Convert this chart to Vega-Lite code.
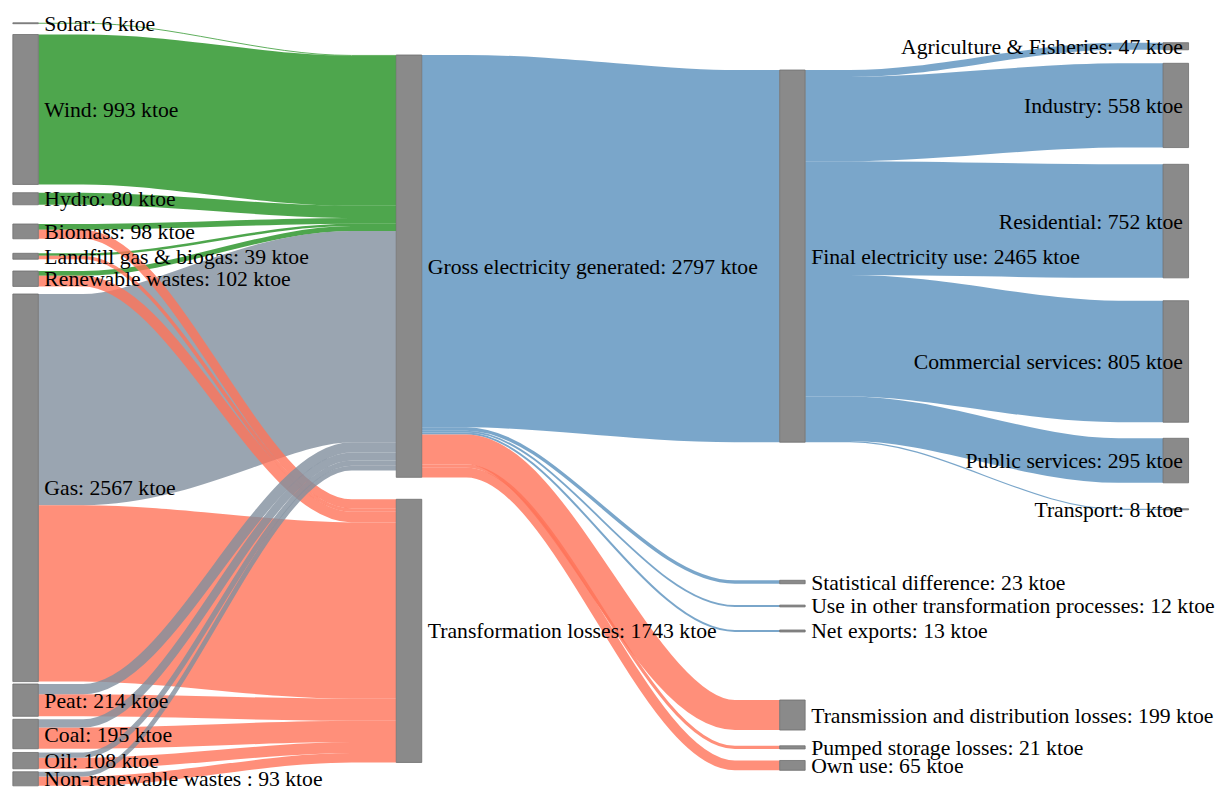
{
  "$schema": "https://vega.github.io/schema/vega-lite/v6.json",
  "width": 1216,
  "height": 787,
  "autosize": {"type": "none"},
  "padding": 0,
  "background": "white",
  "config": {"view": {"stroke": null}},
  "datasets": {
    "nodes": [
      {"name": "Solar", "stage": 0, "start": 151.0, "value": 6, "label": "Solar: 6 ktoe"},
      {"name": "Wind", "stage": 0, "start": 228.5, "value": 993, "label": "Wind: 993 ktoe"},
      {"name": "Hydro", "stage": 0, "start": 1276.2, "value": 80, "label": "Hydro: 80 ktoe"},
      {"name": "Biomass", "stage": 0, "start": 1483.4, "value": 98, "label": "Biomass: 98 ktoe"},
      {"name": "Landfill gas & biogas", "stage": 0, "start": 1677.5, "value": 39, "label": "Landfill gas & biogas: 39 ktoe"},
      {"name": "Renewable wastes", "stage": 0, "start": 1794.7, "value": 102, "label": "Renewable wastes: 102 ktoe"},
      {"name": "Gas", "stage": 0, "start": 1947.0, "value": 2567, "label": "Gas: 2567 ktoe"},
      {"name": "Peat", "stage": 0, "start": 4529.8, "value": 214, "label": "Peat: 214 ktoe"},
      {"name": "Coal", "stage": 0, "start": 4763.6, "value": 195, "label": "Coal: 195 ktoe"},
      {"name": "Oil", "stage": 0, "start": 4983.4, "value": 108, "label": "Oil: 108 ktoe"},
      {"name": "Non-renewable wastes", "stage": 0, "start": 5111.3, "value": 93, "label": "Non-renewable wastes : 93 ktoe"},
      {"name": "Gross electricity generated", "stage": 1, "start": 364.2, "value": 2797, "label": "Gross electricity generated: 2797 ktoe"},
      {"name": "Transformation losses", "stage": 1, "start": 3306.6, "value": 1743, "label": "Transformation losses: 1743 ktoe"},
      {"name": "Final electricity use", "stage": 2, "start": 463.6, "value": 2465, "label": "Final electricity use: 2465 ktoe"},
      {"name": "Statistical difference", "stage": 2, "start": 3843.0, "value": 23, "label": "Statistical difference: 23 ktoe"},
      {"name": "Use in other transformation processes", "stage": 2, "start": 4007.3, "value": 12, "label": "Use in other transformation processes: 12 ktoe"},
      {"name": "Net exports", "stage": 2, "start": 4172.2, "value": 13, "label": "Net exports: 13 ktoe"},
      {"name": "Transmission and distribution losses", "stage": 2, "start": 4635.8, "value": 199, "label": "Transmission and distribution losses: 199 ktoe"},
      {"name": "Pumped storage losses", "stage": 2, "start": 4939.1, "value": 21, "label": "Pumped storage losses: 21 ktoe"},
      {"name": "Own use", "stage": 2, "start": 5036.4, "value": 65, "label": "Own use: 65 ktoe"},
      {"name": "Agriculture & Fisheries", "stage": 3, "start": 282.8, "value": 47, "label": "Agriculture & Fisheries: 47 ktoe"},
      {"name": "Industry", "stage": 3, "start": 419.2, "value": 558, "label": "Industry: 558 ktoe"},
      {"name": "Residential", "stage": 3, "start": 1088.1, "value": 752, "label": "Residential: 752 ktoe"},
      {"name": "Commercial services", "stage": 3, "start": 1991.4, "value": 805, "label": "Commercial services: 805 ktoe"},
      {"name": "Public services", "stage": 3, "start": 2902.6, "value": 295, "label": "Public services: 295 ktoe"},
      {"name": "Transport", "stage": 3, "start": 3368.9, "value": 8, "label": "Transport: 8 ktoe"}
    ],
    "links": [
      {"source": "Solar", "target": "Gross electricity generated", "value": 6, "kind": "renewable"},
      {"source": "Wind", "target": "Gross electricity generated", "value": 993, "kind": "renewable"},
      {"source": "Hydro", "target": "Gross electricity generated", "value": 80, "kind": "renewable"},
      {"source": "Biomass", "target": "Gross electricity generated", "value": 38, "kind": "renewable"},
      {"source": "Biomass", "target": "Transformation losses", "value": 60, "kind": "loss"},
      {"source": "Landfill gas & biogas", "target": "Gross electricity generated", "value": 16, "kind": "renewable"},
      {"source": "Landfill gas & biogas", "target": "Transformation losses", "value": 23, "kind": "loss"},
      {"source": "Renewable wastes", "target": "Gross electricity generated", "value": 32, "kind": "renewable"},
      {"source": "Renewable wastes", "target": "Transformation losses", "value": 70, "kind": "loss"},
      {"source": "Gas", "target": "Gross electricity generated", "value": 1399, "kind": "fossil"},
      {"source": "Gas", "target": "Transformation losses", "value": 1168, "kind": "loss"},
      {"source": "Peat", "target": "Gross electricity generated", "value": 68, "kind": "fossil"},
      {"source": "Peat", "target": "Transformation losses", "value": 146, "kind": "loss"},
      {"source": "Coal", "target": "Gross electricity generated", "value": 54, "kind": "fossil"},
      {"source": "Coal", "target": "Transformation losses", "value": 141, "kind": "loss"},
      {"source": "Oil", "target": "Gross electricity generated", "value": 35, "kind": "fossil"},
      {"source": "Oil", "target": "Transformation losses", "value": 73, "kind": "loss"},
      {"source": "Non-renewable wastes", "target": "Gross electricity generated", "value": 31, "kind": "fossil"},
      {"source": "Non-renewable wastes", "target": "Transformation losses", "value": 62, "kind": "loss"},
      {"source": "Gross electricity generated", "target": "Final electricity use", "value": 2465, "kind": "electricity"},
      {"source": "Gross electricity generated", "target": "Statistical difference", "value": 23, "kind": "electricity"},
      {"source": "Gross electricity generated", "target": "Use in other transformation processes", "value": 12, "kind": "electricity"},
      {"source": "Gross electricity generated", "target": "Net exports", "value": 13, "kind": "electricity"},
      {"source": "Gross electricity generated", "target": "Transmission and distribution losses", "value": 199, "kind": "loss"},
      {"source": "Gross electricity generated", "target": "Pumped storage losses", "value": 21, "kind": "loss"},
      {"source": "Gross electricity generated", "target": "Own use", "value": 65, "kind": "loss"},
      {"source": "Final electricity use", "target": "Agriculture & Fisheries", "value": 47, "kind": "electricity"},
      {"source": "Final electricity use", "target": "Industry", "value": 558, "kind": "electricity"},
      {"source": "Final electricity use", "target": "Residential", "value": 752, "kind": "electricity"},
      {"source": "Final electricity use", "target": "Commercial services", "value": 805, "kind": "electricity"},
      {"source": "Final electricity use", "target": "Public services", "value": 295, "kind": "electricity"},
      {"source": "Final electricity use", "target": "Transport", "value": 8, "kind": "electricity"}
    ]
  },
  "layer": [
    {
      "data": {"name": "links"},
      "transform": [
        {"lookup": "source", "from": {"data": {"name": "nodes"}, "key": "name", "fields": ["stage", "start"]}, "as": ["s_stage", "s_start"]},
        {"lookup": "target", "from": {"data": {"name": "nodes"}, "key": "name", "fields": ["start"]}, "as": ["t_start"]},
        {"window": [{"op": "sum", "field": "value", "as": "s_cum"}], "groupby": ["source"], "sort": [{"field": "t_start", "order": "ascending"}], "frame": [null, 0]},
        {"window": [{"op": "sum", "field": "value", "as": "t_cum"}], "groupby": ["target"], "sort": [{"field": "s_start", "order": "ascending"}], "frame": [null, 0]},
        {"calculate": "[0, 0.125, 0.875, 1]", "as": "t"},
        {"calculate": "[0, 0, 1, 1]", "as": "e"},
        {"flatten": ["t", "e"]},
        {"calculate": "datum.s_stage + 0.03326 + datum.t * 0.93348", "as": "px"},
        {"calculate": "datum.s_start + datum.s_cum - datum.value / 2 + datum.e * ((datum.t_start + datum.t_cum) - (datum.s_start + datum.s_cum))", "as": "py"}
      ],
      "encoding": {
        "x": {"field": "px", "type": "quantitative", "scale": {"domain": [-0.06677, 3.10485], "nice": false, "zero": false, "padding": 0}, "axis": null},
        "y": {"field": "py", "type": "quantitative", "scale": {"domain": [0, 5212], "reverse": true, "nice": false, "zero": false, "padding": 0}, "axis": null},
        "detail": [{"field": "source"}, {"field": "target"}],
        "order": {"field": "t", "type": "quantitative"},
        "color": {"field": "kind", "type": "nominal", "scale": {"domain": ["renewable", "fossil", "electricity", "loss"], "range": ["#229020", "#818f9d", "#5990bd", "#ff7359"]}, "legend": null},
        "size": {"field": "value", "type": "quantitative", "scale": {"type": "linear", "domain": [0, 5212], "range": [0, 787], "zero": true}, "legend": null}
      },
      "layer": [
        {
          "transform": [{"filter": "datum.target == 'Gross electricity generated' && (datum.kind == 'renewable' || datum.source == 'Gas')"}],
          "mark": {"type": "line", "interpolate": "monotone", "strokeCap": "butt", "opacity": 0.8}
        },
        {
          "transform": [{"filter": "datum.target == 'Transformation losses'"}],
          "mark": {"type": "line", "interpolate": "monotone", "strokeCap": "butt", "opacity": 0.8}
        },
        {
          "transform": [{"filter": "datum.kind == 'fossil' && datum.source != 'Gas'"}],
          "mark": {"type": "line", "interpolate": "monotone", "strokeCap": "butt", "opacity": 0.8}
        },
        {
          "transform": [{"filter": "datum.s_stage >= 1"}],
          "mark": {"type": "line", "interpolate": "monotone", "strokeCap": "butt", "opacity": 0.8}
        }
      ]
    },
    {
      "data": {"name": "nodes"},
      "transform": [
        {"calculate": "datum.start + datum.value", "as": "end"},
        {"calculate": "datum.start + datum.value / 2", "as": "mid"}
      ],
      "layer": [
        {
          "mark": {"type": "bar", "width": 25.5, "fill": "#8a8a8a", "stroke": "#6e6e6e", "strokeWidth": 0.8},
          "encoding": {
            "x": {"field": "stage", "type": "quantitative", "scale": {"domain": [-0.06677, 3.10485], "nice": false, "zero": false, "padding": 0}, "axis": null},
            "y": {"field": "start", "type": "quantitative", "scale": {"domain": [0, 5212], "reverse": true, "nice": false, "zero": false, "padding": 0}, "axis": null},
            "y2": {"field": "end"}
          }
        },
        {
          "transform": [{"filter": "datum.stage < 3"}],
          "mark": {"type": "text", "align": "left", "baseline": "alphabetic", "dx": 18.75, "dy": 7.5, "font": "Liberation Serif, Times New Roman, DejaVu Serif, serif", "fontSize": 21.7, "color": "#000000"},
          "encoding": {
            "x": {"field": "stage", "type": "quantitative", "axis": null},
            "y": {"field": "mid", "type": "quantitative", "axis": null},
            "text": {"field": "label"}
          }
        },
        {
          "transform": [{"filter": "datum.stage == 3"}],
          "mark": {"type": "text", "align": "right", "baseline": "alphabetic", "dx": 7.2, "dy": 7.5, "font": "Liberation Serif, Times New Roman, DejaVu Serif, serif", "fontSize": 21.7, "color": "#000000"},
          "encoding": {
            "x": {"field": "stage", "type": "quantitative", "axis": null},
            "y": {"field": "mid", "type": "quantitative", "axis": null},
            "text": {"field": "label"}
          }
        }
      ]
    }
  ]
}
